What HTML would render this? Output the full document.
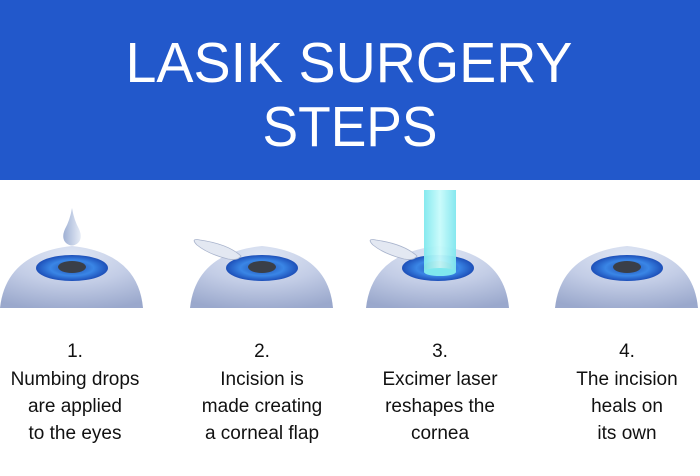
<!DOCTYPE html>
<html><head><meta charset="utf-8"><style>
html,body{margin:0;padding:0;background:#fff;}
svg{display:block;}
text{font-family:"Liberation Sans",sans-serif;}
</style></head><body>
<svg width="700" height="476" viewBox="0 0 700 476" xmlns="http://www.w3.org/2000/svg">
<defs>
<radialGradient id="dome" cx="0.5" cy="0.15" r="0.9">
<stop offset="0" stop-color="#dfe6f4"/><stop offset="0.5" stop-color="#c3cde6"/><stop offset="1" stop-color="#9aa8cc"/>
</radialGradient>
<radialGradient id="iris" cx="0.5" cy="0.5" r="0.5">
<stop offset="0" stop-color="#1f4fb0"/><stop offset="0.6" stop-color="#3a86e6"/><stop offset="1" stop-color="#1d4fb8"/>
</radialGradient>
<linearGradient id="beam" x1="0" x2="1">
<stop offset="0" stop-color="#7fe8ee"/><stop offset="0.5" stop-color="#c8fbfb"/><stop offset="1" stop-color="#7fe6ee"/>
</linearGradient>
<linearGradient id="drop" x1="0" x2="1"><stop offset="0" stop-color="#9fb0d3"/><stop offset="1" stop-color="#e6ecf7"/></linearGradient>
<g id="eye">
<path d="M-72,53 Q-66,-2 0,-9 Q66,-2 71,53 Z" fill="url(#dome)"/>
<ellipse cx="0" cy="13" rx="36" ry="13" fill="url(#iris)"/>
<ellipse cx="0" cy="12" rx="14" ry="6" fill="#3a3f48"/>
</g>
</defs>
<rect x="0" y="0" width="700" height="180" fill="#2258cb"/>
<text x="349" y="82" font-size="57" fill="#fff" text-anchor="middle" textLength="447" lengthAdjust="spacingAndGlyphs">LASIK SURGERY</text>
<text x="350" y="146" font-size="57" fill="#fff" text-anchor="middle" textLength="175" lengthAdjust="spacingAndGlyphs">STEPS</text>

<use href="#eye" x="72" y="255"/>
<path d="M72,208 Q70,220 65,229 Q61,238 66,243 Q72,248 78,243 Q83,238 79,229 Q74,220 72,208Z" fill="url(#drop)"/>

<use href="#eye" x="262" y="255"/>
<path d="M197,245 Q190,238 200,240 Q228,244 241,256 Q238,261 228,259 Q208,254 197,245Z" fill="#e3e8f2" stroke="#a8b3cc" stroke-width="0.8"/>

<use href="#eye" x="438" y="255"/>
<path d="M373,245 Q366,238 376,240 Q404,244 417,256 Q414,261 404,259 Q384,254 373,245Z" fill="#e3e8f2" stroke="#a8b3cc" stroke-width="0.8"/>
<rect x="424" y="190" width="32" height="82" fill="url(#beam)" opacity="0.95"/>
<ellipse cx="440" cy="272" rx="16" ry="4" fill="#7fe8ee"/>

<use href="#eye" x="627" y="255"/>

<g font-size="19" fill="#111" text-anchor="middle">
<text x="75" y="357">1.</text><text x="75" y="385">Numbing drops</text><text x="75" y="412">are applied</text><text x="75" y="439">to the eyes</text>
<text x="262" y="357">2.</text><text x="262" y="385">Incision is</text><text x="262" y="412">made creating</text><text x="262" y="439">a corneal flap</text>
<text x="440" y="357">3.</text><text x="440" y="385">Excimer laser</text><text x="440" y="412">reshapes the</text><text x="440" y="439">cornea</text>
<text x="627" y="357">4.</text><text x="627" y="385">The incision</text><text x="627" y="412">heals on</text><text x="627" y="439">its own</text>
</g>
</svg>
</body></html>
